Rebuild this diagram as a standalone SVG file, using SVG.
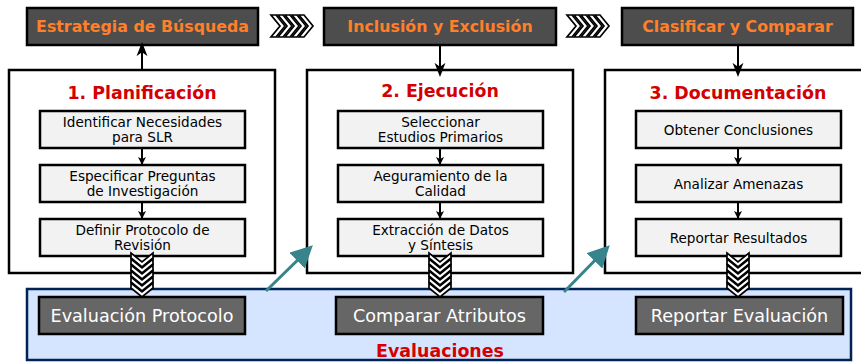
<svg xmlns="http://www.w3.org/2000/svg" width="861" height="363" viewBox="0 0 861 363">
<style>
.top{fill:#4d4d4d;stroke:#000;stroke-width:2.5}
.topt{font-family:"DejaVu Sans",sans-serif;font-weight:bold;font-size:15.8px;fill:#ff7f2a;text-anchor:middle}
.big{fill:#fff;stroke:#000;stroke-width:2.5}
.title{font-family:"DejaVu Sans",sans-serif;font-weight:bold;font-size:17.4px;fill:#d40000;text-anchor:middle}
.inner{fill:#f2f2f2;stroke:#000;stroke-width:2.5}
.it{font-family:"DejaVu Sans",sans-serif;font-size:13.6px;fill:#000;text-anchor:middle}
.panel{fill:#d5e5ff;stroke:#002255;stroke-width:2.5}
.ev{fill:#666;stroke:#000;stroke-width:2.5}
.evt{font-family:"DejaVu Sans",sans-serif;font-size:17.6px;fill:#fff;text-anchor:middle}
.ln{stroke:#000;stroke-width:2;fill:none}
.chev{fill:#fff;stroke:#000;stroke-width:1.7;stroke-linejoin:miter}
.teal{stroke:#37848c;stroke-width:3;fill:none}
</style>
<defs>
<marker id="big" markerWidth="14" markerHeight="16" refX="13" refY="7" orient="auto" markerUnits="userSpaceOnUse" viewBox="0 0 18 14">
<path d="M0,0 L18,7 L0,14 L5,7 Z" fill="#000"/>
</marker>
<marker id="sm" markerWidth="8" markerHeight="8" refX="7" refY="4" orient="auto" markerUnits="userSpaceOnUse" viewBox="0 0 8 8">
<path d="M0,0 L8,4 L0,8 L2,4 Z" fill="#000"/>
</marker>
<marker id="tl" markerWidth="22" markerHeight="22" refX="18" refY="11" orient="auto" markerUnits="userSpaceOnUse" viewBox="0 0 22 22">
<path d="M0,0 L22,11 L0,22 Z" fill="#37848c"/>
</marker>
<g id="chr">
<path class="chev" d="M0,0 L5,0 L14,11 L5,22 L0,22 L9,11 Z"/>
</g>
<g id="chd">
<path class="chev" d="M0,0 L0,5 L11,14 L22,5 L22,0 L11,9 Z"/>
</g>
</defs>

<g id="panel-evaluaciones">
<rect class="panel" x="27" y="289" width="824" height="71"/>
<text class="title" x="440" y="357">Evaluaciones</text>
</g>

<g id="box1">
<rect class="big" x="9" y="70" width="266" height="203"/>
<text class="title" x="142" y="99">1. Planificación</text>
</g>
<g id="box2">
<rect class="big" x="307" y="70" width="266" height="203"/>
<text class="title" x="440" y="97">2. Ejecución</text>
</g>
<g id="box3">
<rect class="big" x="605" y="70" width="266" height="203"/>
<text class="title" x="738" y="99">3. Documentación</text>
</g>

<g id="top1"><rect class="top" x="27" y="8" width="231" height="37"/><text class="topt" x="142.5" y="32">Estrategia de Búsqueda</text></g>
<g id="top2"><rect class="top" x="324" y="8" width="232" height="37"/><text class="topt" x="440" y="32">Inclusión y Exclusión</text></g>
<g id="top3"><rect class="top" x="622" y="8" width="231" height="37"/><text class="topt" x="737.5" y="32">Clasificar y Comparar</text></g>

<g id="n11"><rect class="inner" x="40" y="111" width="205" height="37"/><text class="it" x="142.5" y="126.5">Identificar Necesidades</text><text class="it" x="142.5" y="141.5">para SLR</text></g>
<g id="n12"><rect class="inner" x="40" y="165" width="205" height="37"/><text class="it" x="142.5" y="180.5">Especificar Preguntas</text><text class="it" x="142.5" y="195.5">de Investigación</text></g>
<g id="n13"><rect class="inner" x="40" y="219" width="205" height="37"/><text class="it" x="142.5" y="234.5">Definir Protocolo de</text><text class="it" x="142.5" y="249.5">Revisión</text></g>

<g id="n21"><rect class="inner" x="338" y="111" width="205" height="37"/><text class="it" x="440.5" y="126.5">Seleccionar</text><text class="it" x="440.5" y="141.5">Estudios Primarios</text></g>
<g id="n22"><rect class="inner" x="338" y="165" width="205" height="37"/><text class="it" x="440.5" y="180.5">Aeguramiento de la</text><text class="it" x="440.5" y="195.5">Calidad</text></g>
<g id="n23"><rect class="inner" x="338" y="219" width="205" height="37"/><text class="it" x="440.5" y="234.5">Extracción de Datos</text><text class="it" x="440.5" y="249.5">y Síntesis</text></g>

<g id="n31"><rect class="inner" x="636" y="111" width="205" height="37"/><text class="it" x="738.5" y="135">Obtener Conclusiones</text></g>
<g id="n32"><rect class="inner" x="636" y="165" width="205" height="37"/><text class="it" x="738.5" y="189">Analizar Amenazas</text></g>
<g id="n33"><rect class="inner" x="636" y="219" width="205" height="37"/><text class="it" x="738.5" y="243">Reportar Resultados</text></g>

<g id="e1"><rect class="ev" x="39" y="297" width="206" height="37"/><text class="evt" x="142" y="322">Evaluación Protocolo</text></g>
<g id="e2"><rect class="ev" x="336" y="297" width="207" height="37"/><text class="evt" x="439.5" y="322">Comparar Atributos</text></g>
<g id="e3"><rect class="ev" x="636" y="297" width="207" height="37"/><text class="evt" x="739.5" y="322">Reportar Evaluación</text></g>

<g id="connectors">
<line class="ln" x1="142" y1="70" x2="142" y2="46" marker-end="url(#big)"/>
<line class="ln" x1="440" y1="45" x2="440" y2="73" marker-end="url(#big)"/>
<line class="ln" x1="738" y1="45" x2="738" y2="73" marker-end="url(#big)"/>
<line class="ln" x1="142" y1="148" x2="142" y2="164" marker-end="url(#sm)"/>
<line class="ln" x1="142" y1="202" x2="142" y2="218" marker-end="url(#sm)"/>
<line class="ln" x1="440" y1="148" x2="440" y2="164" marker-end="url(#sm)"/>
<line class="ln" x1="440" y1="202" x2="440" y2="218" marker-end="url(#sm)"/>
<line class="ln" x1="738" y1="148" x2="738" y2="164" marker-end="url(#sm)"/>
<line class="ln" x1="738" y1="202" x2="738" y2="218" marker-end="url(#sm)"/>
<g id="chev-right-1">
<use href="#chr" x="271" y="15"/><use href="#chr" x="278" y="15"/><use href="#chr" x="285" y="15"/><use href="#chr" x="292" y="15"/><use href="#chr" x="299" y="15"/>
</g>
<g id="chev-right-2">
<use href="#chr" x="567" y="15"/><use href="#chr" x="574" y="15"/><use href="#chr" x="581" y="15"/><use href="#chr" x="588" y="15"/><use href="#chr" x="595" y="15"/>
</g>
<g id="chev-down-1">
<use href="#chd" x="131" y="253"/><use href="#chd" x="131" y="259"/><use href="#chd" x="131" y="265"/><use href="#chd" x="131" y="271"/><use href="#chd" x="131" y="277"/><use href="#chd" x="131" y="283"/>
</g>
<g id="chev-down-2">
<use href="#chd" x="429" y="253"/><use href="#chd" x="429" y="259"/><use href="#chd" x="429" y="265"/><use href="#chd" x="429" y="271"/><use href="#chd" x="429" y="277"/><use href="#chd" x="429" y="283"/>
</g>
<g id="chev-down-3">
<use href="#chd" x="727" y="253"/><use href="#chd" x="727" y="259"/><use href="#chd" x="727" y="265"/><use href="#chd" x="727" y="271"/><use href="#chd" x="727" y="277"/><use href="#chd" x="727" y="283"/>
</g>
<line class="teal" x1="266" y1="291" x2="310" y2="248" marker-end="url(#tl)"/>
<line class="teal" x1="564" y1="292" x2="607" y2="248" marker-end="url(#tl)"/>
</g>
</svg>
